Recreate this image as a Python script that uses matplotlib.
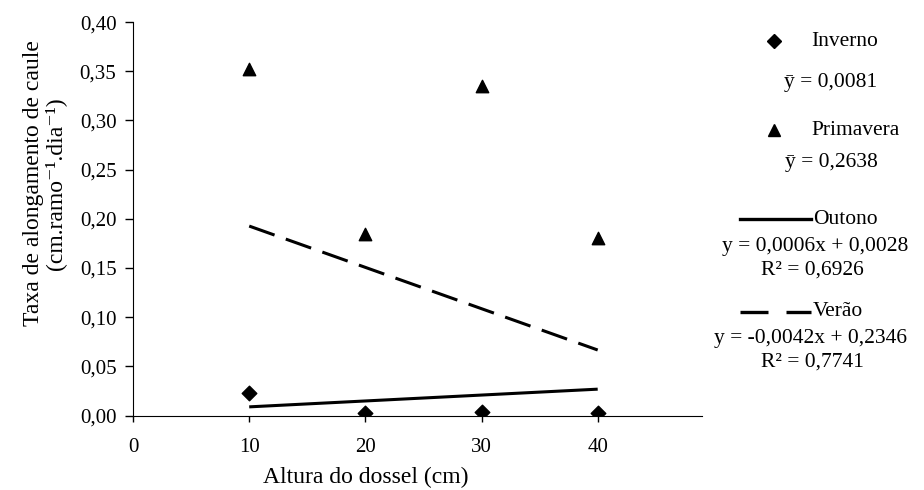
import numpy as np
import matplotlib.pyplot as plt
from matplotlib.lines import Line2D

plt.rcParams['font.family'] = ['Liberation Serif', 'DejaVu Serif']

# altura do dossel (cm)
altura = [10, 20, 30, 40]
inverno = [0.023, 0.003, 0.004, 0.003]
primavera = [0.352, 0.185, 0.335, 0.180]

# ajustes lineares
outono_a, outono_b = 0.0006, 0.0028
verao_a, verao_b = -0.0042, 0.2346

fig = plt.figure(figsize=(9.24, 4.9), dpi=100)
ax = fig.add_axes([0.144, 0.152, 0.616, 0.803])

x = np.array([altura[0], altura[-1]])
ax.plot(x, outono_a * x + outono_b, color='black', lw=2.2, solid_capstyle='butt')
ax.plot(x, verao_a * x + verao_b, color='black', lw=2.2, dashes=(8.8, 3.9))
ax.scatter(altura, inverno, marker='D', s=55, color='black', zorder=3)
ax.scatter(altura, primavera, marker='^', s=80, color='black', zorder=3)

ax.set_xlim(0, 49)
ax.set_ylim(0, 0.40)
ax.set_xticks([0, 10, 20, 30, 40])
yt = np.arange(0, 0.401, 0.05)
ax.set_yticks(yt)
ax.set_yticklabels([f'{v:.2f}'.replace('.', ',') for v in yt])
ax.tick_params(labelsize=15, direction='out', width=1)
ax.tick_params(axis='y', length=6, pad=6)
ax.tick_params(axis='x', length=4, pad=12)
for s in ['top', 'right']:
    ax.spines[s].set_visible(False)

ax.set_xlabel('Altura do dossel (cm)', fontsize=17, va='center')
ax.xaxis.set_label_coords(0.408, -0.157)
ax.set_ylabel('Taxa de alongamento de caule\n(cm.ramo\u207b\u00b9.dia\u207b\u00b9)',
              fontsize=17, linespacing=1.05)
ax.yaxis.set_label_coords(-0.117, 0.59)

# legenda
W, H = 924, 490
def fx(px):
    return px / W
def fy(py):
    return 1 - py / H

fs = 15.5
fig.add_artist(Line2D([fx(774)], [fy(41)], marker='D', ms=7, color='black', lw=0))
fig.text(fx(811), fy(41), 'Inverno', fontsize=fs, va='center')
fig.text(fx(831), fy(82), '\u0233 = 0,0081', fontsize=fs, va='center', ha='center')
fig.add_artist(Line2D([fx(774)], [fy(130)], marker='^', ms=9, color='black', lw=0))
fig.text(fx(811), fy(130), 'Primavera', fontsize=fs, va='center')
fig.text(fx(831), fy(163), '\u0233 = 0,2638', fontsize=fs, va='center', ha='center')

fig.add_artist(Line2D([fx(740), fx(811)], [fy(219), fy(219)], color='black', lw=2.4))
fig.text(fx(813), fy(219), 'Outono', fontsize=fs, va='center')
fig.text(fx(815), fy(246), 'y = 0,0006x + 0,0028', fontsize=fs, va='center', ha='center')
fig.text(fx(812), fy(270), 'R\u00b2 = 0,6926', fontsize=fs, va='center', ha='center')

fig.add_artist(Line2D([fx(740), fx(811)], [fy(312), fy(312)], color='black', lw=2.4,
                      dashes=(8.4, 5.4)))
fig.text(fx(813), fy(312), 'Verão', fontsize=fs, va='center')
fig.text(fx(811), fy(338), 'y = -0,0042x + 0,2346', fontsize=fs, va='center', ha='center')
fig.text(fx(812), fy(362), 'R\u00b2 = 0,7741', fontsize=fs, va='center', ha='center')

fig.savefig('out.png', dpi=100)
